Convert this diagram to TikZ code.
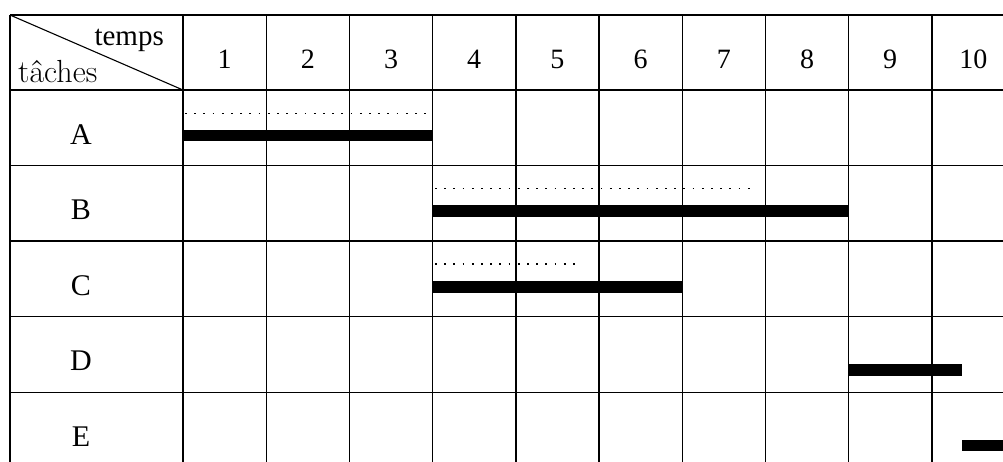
\documentclass[tikz,border=0pt]{standalone}
\usepackage{fontspec}
\newfontfamily\timesf{Liberation Serif}
\begin{document}
\begin{tikzpicture}[x=1pt,y=-1pt,
  gridline/.style={line width=1.4pt,black},
  bar/.style={line width=11.5pt,black},
  dotline/.style={line width=1.3pt,dash pattern=on 1.8pt off 7.4pt},
  hdr/.style={font=\timesf\fontsize{28}{30}\selectfont,anchor=base,inner sep=0pt},
  lbl/.style={font=\timesf\fontsize{30}{32}\selectfont,anchor=base,inner sep=0pt}]
\useasboundingbox (0,0) rectangle (1003,461);
\clip (0,0) rectangle (1003,461);
\def\cw{83.2}
\def\rh{75.55}
% grid
\foreach \i in {0,...,10}{
  \draw[gridline] ({183+\i*\cw},15) -- ({183+\i*\cw},470);
}
\draw[gridline] (10,15) -- (10,470);
\draw[gridline] (10,15) -- (1010,15);
\foreach \j in {0,...,5}{
  \draw[gridline] (10,{90+\j*\rh}) -- (1010,{90+\j*\rh});
}
\draw[line width=1.1pt] (10,15) -- (183,90);
% header
\node[font=\timesf\fontsize{29}{31}\selectfont,anchor=base east,inner sep=0pt] (temps) at (164,45) {temps};
\node[font=\fontsize{32}{34}\selectfont,anchor=base west,inner sep=0pt] (taches) at (18,82) {tâches};
\foreach \n in {1,...,10}{
  \node[hdr] (h\n) at ({183+(\n-0.5)*\cw},68) {\n};
}
% row labels
\foreach \l [count=\k from 0] in {A,B,C,D,E}{
  \node[lbl] (r\l) at (81,{90+\k*\rh+54}) {\l};
}
% bars
\coordinate (a0) at (183,135.5);   \coordinate (a1) at ({183+3*\cw},135.5);
\coordinate (b0) at ({183+3*\cw},211.2); \coordinate (b1) at ({183+8*\cw},211.2);
\coordinate (c0) at ({183+3*\cw},286.9); \coordinate (c1) at ({183+6*\cw},286.9);
\coordinate (d0) at ({183+8*\cw},370); \coordinate (d1) at (962,370);
\coordinate (e0) at (962,445.6); \coordinate (e1) at (1010,445.6);
\draw[bar] (a0) -- (a1);
\draw[bar] (b0) -- (b1);
\draw[bar] (c0) -- (c1);
\draw[bar] (d0) -- (d1);
\draw[bar] (e0) -- (e1);
% dotted
\coordinate (da0) at (185,113.3); \coordinate (da1) at ({183+3*\cw},113.3);
\coordinate (db0) at (435,188.5); \coordinate (db1) at (751,188.5);
\coordinate (dc0) at (435,264); \coordinate (dc1) at (581,264);
\draw[dotline] (da0) -- (da1);
\draw[dotline] (db0) -- (db1);
\draw[dotline] (dc0) -- (dc1);
\end{tikzpicture}
\end{document}
